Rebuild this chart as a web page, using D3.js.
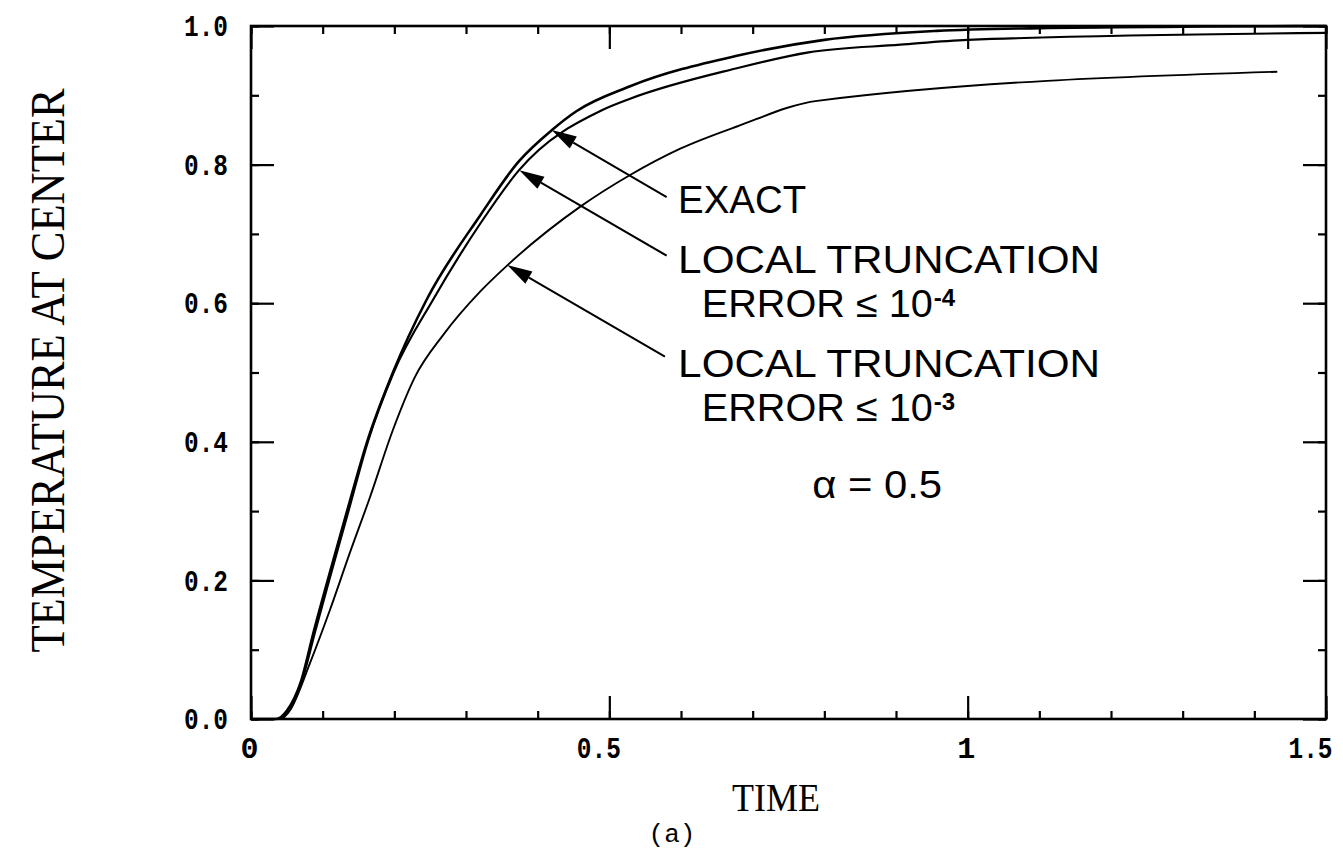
<!DOCTYPE html>
<html>
<head>
<meta charset="utf-8">
<script src="https://cdn.jsdelivr.net/npm/d3@7/dist/d3.min.js"></script>
<style>
  body { margin: 0; background: #fff; }
  svg { display: block; }
</style>
</head>
<body>
<svg id="chart" width="1343" height="849"></svg>
<script>
// exact solution
const timeExact = [0, 0.035, 0.05, 0.07, 0.087, 0.107, 0.134, 0.162, 0.198, 0.245, 0.32, 0.374, 0.42, 0.454, 0.529, 0.678, 0.8, 0.957, 1.1, 1.3, 1.5]
const tempExact = [0, 0, 0.012, 0.055, 0.124, 0.20, 0.30, 0.40, 0.50, 0.605, 0.727, 0.805, 0.850, 0.877, 0.913, 0.957, 0.980, 0.993, 0.997, 0.999, 1.0]

// local truncation error <= 1e-4
const time4 = [0, 0.038, 0.055, 0.072, 0.089, 0.109, 0.136, 0.163, 0.199, 0.254, 0.32, 0.374, 0.491, 0.529, 0.678, 0.778, 0.906, 1.0, 1.5]
const temp4 = [0, 0, 0.014, 0.058, 0.124, 0.20, 0.30, 0.40, 0.50, 0.605, 0.715, 0.792, 0.879, 0.895, 0.939, 0.962, 0.973, 0.980, 0.990]

// local truncation error <= 1e-3
const time3 = [0, 0.04, 0.058, 0.082, 0.110, 0.138, 0.166, 0.198, 0.229, 0.268, 0.32, 0.358, 0.459, 0.529, 0.599, 0.678, 0.79, 1.432]
const temp3 = [0, 0, 0.02, 0.08, 0.157, 0.24, 0.32, 0.417, 0.494, 0.554, 0.617, 0.655, 0.739, 0.785, 0.823, 0.855, 0.892, 0.934]

const xMajor = [0, 0.5, 1, 1.5]
const xMinor = d3.range(0, 16).map(i => i / 10)
const yMajor = [0, 0.2, 0.4, 0.6, 0.8, 1.0]
const yMinor = d3.range(0, 11).map(i => i / 10)

// annotation anchors (time, temperature)
const arrowTips = [[0.4196, 0.850], [0.3744, 0.792], [0.3576, 0.655]]
const arrowTails = [[0.580, 0.753], [0.580, 0.6685], [0.5776, 0.5228]]
const labelLines = ['EXACT', 'LOCAL TRUNCATION', 'ERROR \u2264 10', 'LOCAL TRUNCATION', 'ERROR \u2264 10']
const labelPos = [[0.596, 0.730], [0.596, 0.644], [0.629, 0.580], [0.596, 0.4935], [0.629, 0.430]]
const supLabels = ['-4', '-3']

const width = 1343, height = 849
const margin = {top: 26, right: 17, bottom: 130, left: 251}
const svg = d3.select('#chart')

const x = d3.scaleLinear().domain([0, 1.5]).range([margin.left, width - margin.right])
const y = d3.scaleLinear().domain([0, 1]).range([height - margin.bottom, margin.top])

const tickFont = (g) => g.selectAll('text')
    .attr('font-family', '"Liberation Mono", "DejaVu Sans Mono", monospace')
    .attr('font-weight', 'bold')
    .attr('font-size', 30)
    .attr('fill', '#000')
    .each(function () {
        const t = d3.select(this)
        if (t.text().length > 1) t.attr('textLength', 44).attr('lengthAdjust', 'spacingAndGlyphs')
    })
const tickLines = (g) => {
    g.select('.domain').remove()
    g.selectAll('line').attr('stroke', '#000').attr('stroke-width', 2.2)
}

// bottom
svg.append('g').attr('transform', `translate(0,${y(0)})`)
    .call(d3.axisBottom(x).tickValues(xMinor).tickSizeInner(-8).tickSizeOuter(0).tickFormat(''))
    .call(tickLines)
svg.append('g').attr('transform', `translate(0,${y(0)})`)
    .call(d3.axisBottom(x).tickValues(xMajor).tickSizeInner(-23).tickSizeOuter(0).tickPadding(18).tickFormat(d3.format('')))
    .call(tickLines).call(tickFont)
    .selectAll('text').attr('dx', d => Number.isInteger(d) ? -2 : (d === 1.5 ? -16 : -11))
// top
svg.append('g').attr('transform', `translate(0,${y(1)})`)
    .call(d3.axisTop(x).tickValues(xMinor).tickSizeInner(-8).tickSizeOuter(0).tickFormat(''))
    .call(tickLines)
svg.append('g').attr('transform', `translate(0,${y(1)})`)
    .call(d3.axisTop(x).tickValues(xMajor).tickSizeInner(-23).tickSizeOuter(0).tickFormat(''))
    .call(tickLines)
// left
svg.append('g').attr('transform', `translate(${x(0)},0)`)
    .call(d3.axisLeft(y).tickValues(yMinor).tickSizeInner(-8).tickSizeOuter(0).tickFormat(''))
    .call(tickLines)
svg.append('g').attr('transform', `translate(${x(0)},0)`)
    .call(d3.axisLeft(y).tickValues(yMajor).tickSizeInner(-23).tickSizeOuter(0).tickPadding(23).tickFormat(d3.format('.1f')))
    .call(tickLines).call(tickFont)
// right
svg.append('g').attr('transform', `translate(${x(1.5)},0)`)
    .call(d3.axisRight(y).tickValues(yMinor).tickSizeInner(-8).tickSizeOuter(0).tickFormat(''))
    .call(tickLines)
svg.append('g').attr('transform', `translate(${x(1.5)},0)`)
    .call(d3.axisRight(y).tickValues(yMajor).tickSizeInner(-23).tickSizeOuter(0).tickFormat(''))
    .call(tickLines)

// frame
svg.append('rect')
    .attr('x', x(0)).attr('y', y(1))
    .attr('width', x(1.5) - x(0)).attr('height', y(0) - y(1))
    .attr('fill', 'none').attr('stroke', '#000').attr('stroke-width', 2.6)

// curves
const line = d3.line().x(d => x(d[0])).y(d => y(d[1])).curve(d3.curveMonotoneX)
const series = [
    {t: timeExact, v: tempExact, w: 2.6},
    {t: time4, v: temp4, w: 2.2},
    {t: time3, v: temp3, w: 1.9}
]
series.forEach(s => {
    svg.append('path')
        .datum(s.t.map((t, i) => [t, s.v[i]]))
        .attr('d', line)
        .attr('fill', 'none')
        .attr('stroke', '#000')
        .attr('stroke-width', s.w)
        .attr('stroke-linejoin', 'round')
})

// arrows
arrowTips.forEach((tip, i) => {
    const tx = x(tip[0]), ty = y(tip[1])
    const sx = x(arrowTails[i][0]), sy = y(arrowTails[i][1])
    const len = Math.hypot(sx - tx, sy - ty)
    const ux = (sx - tx) / len, uy = (sy - ty) / len
    const bx = tx + ux * 25, by = ty + uy * 25
    svg.append('line')
        .attr('x1', sx).attr('y1', sy).attr('x2', bx).attr('y2', by)
        .attr('stroke', '#000').attr('stroke-width', 2)
    svg.append('path')
        .attr('d', `M${tx},${ty}L${bx - uy * 7},${by + ux * 7}L${bx + uy * 7},${by - ux * 7}Z`)
        .attr('fill', '#000')
})

// annotation text
const sans = '"Liberation Sans", Arial, sans-serif'
const lens = [128, 422, 231, 422, 231]
labelLines.forEach((txt, i) => {
    svg.append('text')
        .attr('x', x(labelPos[i][0])).attr('y', y(labelPos[i][1]))
        .attr('font-family', sans).attr('font-size', 38)
        .attr('textLength', lens[i]).attr('lengthAdjust', 'spacingAndGlyphs')
        .text(txt)
})
supLabels.forEach((txt, i) => {
    const p = labelPos[2 + i * 2]
    svg.append('text')
        .attr('x', x(p[0]) + lens[2] + 1).attr('y', y(p[1]) - 11)
        .attr('font-family', sans).attr('font-size', 24).attr('font-weight', 'bold')
        .text(txt)
})
svg.append('text')
    .attr('x', x(0.783)).attr('y', y(0.319))
    .attr('font-family', sans).attr('font-size', 38)
    .attr('textLength', 130).attr('lengthAdjust', 'spacingAndGlyphs')
    .text('\u03b1 = 0.5')

// axis titles
const serif = '"Liberation Serif", "Times New Roman", serif'
svg.append('text')
    .attr('x', 776).attr('y', 811)
    .attr('text-anchor', 'middle')
    .attr('font-family', serif).attr('font-size', 40)
    .attr('textLength', 88).attr('lengthAdjust', 'spacingAndGlyphs')
    .text('TIME')
svg.append('text')
    .attr('transform', `translate(64,${(y(0) + y(1)) / 2 - 2}) rotate(-90)`)
    .attr('text-anchor', 'middle')
    .attr('font-family', serif).attr('font-size', 48)
    .attr('textLength', 564).attr('lengthAdjust', 'spacingAndGlyphs')
    .text('TEMPERATURE AT CENTER')
svg.append('text')
    .attr('x', 672).attr('y', 842)
    .attr('text-anchor', 'middle')
    .attr('font-family', '"Liberation Mono", monospace').attr('font-size', 26)
    .text('(a)')
</script>
</body>
</html>
